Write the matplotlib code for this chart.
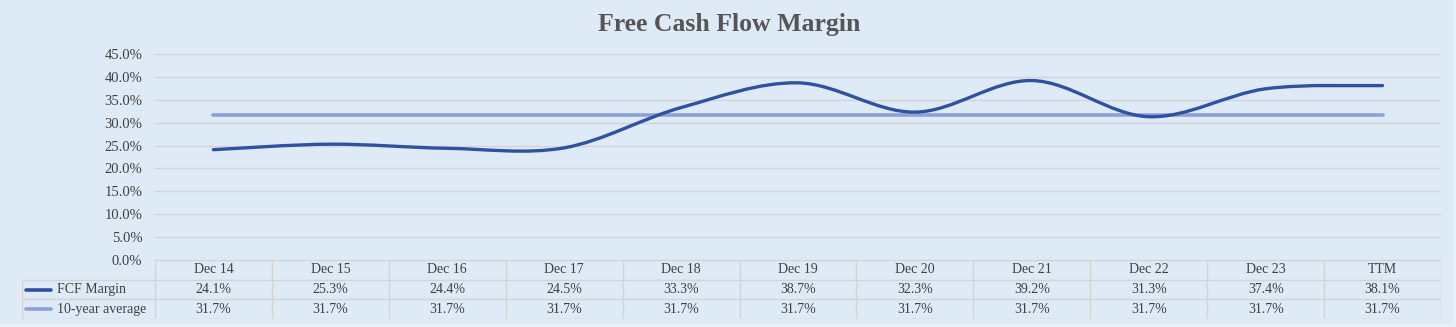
import numpy as np
import matplotlib.pyplot as plt
from matplotlib.path import Path
from matplotlib.patches import PathPatch, Rectangle

# chart data
periods = ['Dec 14', 'Dec 15', 'Dec 16', 'Dec 17', 'Dec 18', 'Dec 19',
           'Dec 20', 'Dec 21', 'Dec 22', 'Dec 23', 'TTM']
fcf_margin = [24.1, 25.3, 24.4, 24.5, 33.3, 38.7, 32.3, 39.2, 31.3, 37.4, 38.1]
avg_margin = [31.7] * 11
series_names = ['FCF Margin', '10-year average']
yticks = [0, 5, 10, 15, 20, 25, 30, 35, 40, 45]

bg = '#DEEAF6'
grid_c = '#D4D4D4'
txt_c = '#404040'
fcf_c = '#2F52A0'
avg_c = '#8EA0DB'

plt.rcParams['font.family'] = ['Liberation Serif', 'DejaVu Serif']

W, H = 1456, 327
fig = plt.figure(figsize=(W / 100, H / 100), dpi=100, facecolor='#E8F0F9')
# chart area, with a thin lighter margin at the right and bottom
fig.patches.append(Rectangle((0, 3 / H), 1453 / W, 1, transform=fig.transFigure,
                             fc=bg, ec='none', zorder=-10))


def box(x0, y0, x1, y1):
    # pixel box (top-left origin) -> figure fraction rect
    return [x0 / W, 1 - y1 / H, (x1 - x0) / W, (y1 - y0) / H]


ax = fig.add_axes(box(155, 54, 1441, 260))
ax.set_facecolor(bg)
n = len(periods)
ax.set_xlim(-0.5, n - 0.5)
ax.set_ylim(0, 45)
ax.set_yticks(yticks)
ax.set_yticklabels([f'{v:.1f}%' for v in yticks], fontsize=10.5, color=txt_c)
ax.set_xticks([])
ax.tick_params(axis='y', length=0, pad=9)
for s in ax.spines.values():
    s.set_visible(False)
ax.grid(axis='y', color=grid_c, lw=1.0)
ax.set_axisbelow(True)


def smooth_path(xs, ys, t=1 / 6):
    # cubic bezier through the points, catmull-rom style tangents
    xs, ys = np.asarray(xs, float), np.asarray(ys, float)
    verts = [(xs[0], ys[0])]
    codes = [Path.MOVETO]
    for i in range(len(xs) - 1):
        p0 = i - 1 if i > 0 else i
        p3 = i + 2 if i + 2 < len(xs) else i + 1
        c1 = (xs[i] + (xs[i + 1] - xs[p0]) * t, ys[i] + (ys[i + 1] - ys[p0]) * t)
        c2 = (xs[i + 1] - (xs[p3] - xs[i]) * t, ys[i + 1] - (ys[p3] - ys[i]) * t)
        verts += [c1, c2, (xs[i + 1], ys[i + 1])]
        codes += [Path.CURVE4] * 3
    return Path(verts, codes)


x = np.arange(n)
ax.plot(x, avg_margin, color=avg_c, lw=2.6, solid_capstyle='round', zorder=3)
ax.add_patch(PathPatch(smooth_path(x, fcf_margin), fill=False, ec=fcf_c,
                       lw=2.4, capstyle='round', zorder=4))

fig.text(729 / W, 1 - 24 / H, 'Free Cash Flow Margin', fontsize=18.5,
         fontweight='bold', color='#555555', ha='center', va='center')

# data table under the plot
tab = fig.add_axes(box(22, 260, 1441, 319))
tab.set_facecolor(bg)
leg_w = (155 - 22) / ((1441 - 155) / n)
tab.set_xlim(-0.5 - leg_w, n - 0.5)
tab.set_ylim(3, 0)
tab.axis('off')
line_kw = dict(color=grid_c, lw=1.0)
for r in range(4):
    x0 = -0.5 if r == 0 else -0.5 - leg_w
    tab.plot([x0, n - 0.5], [r, r], **line_kw)
for c in range(n + 1):
    tab.plot([c - 0.5, c - 0.5], [0, 3], **line_kw)
tab.plot([-0.5 - leg_w] * 2, [1, 3], **line_kw)

for i, p in enumerate(periods):
    tab.text(i, 0.5, p, ha='center', va='center', fontsize=10, color=txt_c)
for row, (vals, name, col) in enumerate(zip([fcf_margin, avg_margin], series_names,
                                            [fcf_c, avg_c]), start=1):
    for i, v in enumerate(vals):
        tab.text(i, row + 0.5, f'{v:.1f}%', ha='center', va='center',
                 fontsize=10, color=txt_c)
    xl = -0.5 - leg_w
    tab.plot([xl + 0.03, xl + 0.25], [row + 0.5, row + 0.5], color=col, lw=2.6,
             solid_capstyle='round')
    tab.text(xl + 0.30, row + 0.5, name, ha='left', va='center', fontsize=10,
             color=txt_c)

fig.savefig('out.png', dpi=100, facecolor=fig.get_facecolor())
